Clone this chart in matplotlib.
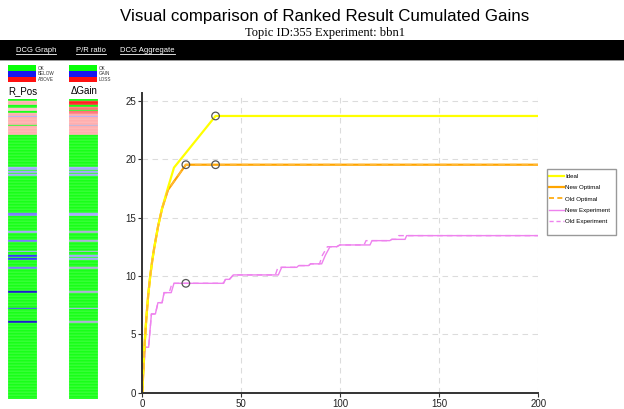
import matplotlib
matplotlib.use('Agg')
import matplotlib.pyplot as plt
from matplotlib.patches import Rectangle
from matplotlib.lines import Line2D
from matplotlib.colors import to_rgb

# ---------------- data ----------------
title = "Visual comparison of Ranked Result Cumulated Gains"
subtitle = "Topic ID:355 Experiment: bbn1"
links = ["DCG Graph", "P/R ratio", "DCG Aggregate"]

ideal_x = [0, 1, 2, 3, 4, 5, 6, 8, 10, 13, 16, 37, 200]
ideal_y = [0, 3.7, 6.3, 8.4, 10.0, 11.3, 12.4, 14.3, 15.8, 17.6, 19.3, 23.73, 23.73]

new_opt_x = [0, 1, 2, 3, 4, 5, 6, 8, 10, 13, 22, 200]
new_opt_y = [0, 3.7, 6.3, 8.4, 10.0, 11.3, 12.4, 14.3, 15.8, 17.4, 19.55, 19.55]
old_opt_x = new_opt_x
old_opt_y = new_opt_y

new_exp_x = [0, 1.5, 3.2, 4.6, 6.6, 7.9, 10, 11, 14.6, 16, 41, 42, 44, 46, 68.7, 70.4,
             78, 79, 84, 85, 90.6, 92.5, 94.8, 98.2, 99.8, 115, 116, 125, 126, 132.7, 133.5, 200]
new_exp_y = [0.2, 3.9, 3.9, 6.75, 6.75, 7.72, 7.72, 8.58, 8.58, 9.38, 9.38, 9.72, 9.72, 10.1, 10.1, 10.75,
             10.75, 10.9, 10.9, 11.05, 11.05, 11.8, 12.52, 12.52, 12.67, 12.67, 13.04, 13.04, 13.15, 13.15, 13.47, 13.47]

old_exp_x = [0, 1.5, 3.2, 4.6, 6.6, 7.9, 10, 11, 13.6, 15, 41, 42, 44, 46, 67.2, 68.5,
             77, 78, 84, 85, 89.5, 91, 93.5, 98.2, 99.8, 112, 113, 125, 126, 128.5, 129.5, 200]
old_exp_y = new_exp_y

marker_x = [37, 22, 37, 22]
marker_y = [23.73, 19.55, 19.55, 9.38]

series_labels = ["Ideal", "New Optimal", "Old Optimal", "New Experiment", "Old Experiment"]

# strip categories: runs of (code, count); 200 ranks each
rpos_runs = [("G", 1), ("r", 3), ("G", 2), ("p", 2), ("G", 1), ("r", 2), ("b", 1), ("r", 5), ("G", 1),
             ("r", 6), ("G", 21), ("b", 2), ("G", 1), ("b", 1), ("G", 1), ("b", 1), ("G", 25), ("m", 2),
             ("G", 10), ("b", 1), ("G", 5), ("m", 1), ("G", 6), ("b", 1), ("G", 2), ("B", 1), ("G", 1),
             ("B", 1), ("G", 5), ("m", 1), ("G", 15), ("D", 1), ("G", 10), ("B", 1), ("G", 8), ("D", 1),
             ("G", 51)]
gain_runs = [("G", 1), ("R", 3), ("G", 1), ("s", 2), ("G", 1), ("s", 2), ("r", 1), ("b", 1), ("r", 5),
             ("c", 1), ("r", 6), ("G", 21), ("b", 2), ("G", 1), ("b", 1), ("G", 1), ("b", 1), ("G", 25),
             ("b", 2), ("G", 10), ("c", 1), ("G", 5), ("c", 1), ("G", 6), ("c", 1), ("G", 2), ("b", 1),
             ("G", 1), ("b", 1), ("G", 5), ("c", 1), ("G", 15), ("c", 1), ("G", 10), ("b", 1), ("G", 8),
             ("c", 1), ("G", 51)]

code_colors = {"G": "#08ff08", "r": "#ffa8a8", "p": "#ffc0c0", "R": "#ff1010", "s": "#ff6a6a",
               "b": "#a0a0ff", "m": "#7070ff", "B": "#2828ff", "D": "#0a0acc", "c": "#a8a8d8"}

# ---------------- figure ----------------
W, H = 624, 409
fig = plt.figure(figsize=(6.24, 4.09), dpi=100)
fig.patch.set_facecolor("white")
sans = "Liberation Sans"


def fy(y):
    return 1 - y / H


fig.text(325 / W, fy(17), title, ha="center", va="center", fontsize=12.2, family=sans)
fig.text(325 / W, fy(33), subtitle, ha="center", va="center", fontsize=9, family="Liberation Serif")

# black navigation bar
fig.add_artist(Rectangle((0, fy(60)), 1, 20 / H, transform=fig.transFigure, color="black", lw=0))
fig.add_artist(Rectangle((0, fy(61)), 1, 1 / H, transform=fig.transFigure, color="#999999", lw=0))
link_x = [16, 76, 120]
link_texts = []
for lx, lab in zip(link_x, links):
    link_texts.append(fig.text(lx / W, fy(50), lab, color="white", fontsize=5.5, family=sans,
                               va="center", ha="left"))

# legend swatches for strips
def swatch(x0, labels):
    cols = ["#08ff08", "#1818f0", "#ff1010"]
    for i, (c, lab) in enumerate(zip(cols, labels)):
        y0 = 65.5 + i * 5.6
        fig.add_artist(Rectangle((x0 / W, fy(y0 + 5.6)), 28 / W, 5.6 / H, transform=fig.transFigure,
                                 color=c, lw=0))
        fig.text((x0 + 30) / W, fy(y0 + 2.8), lab, fontsize=3.3, family=sans, va="center", ha="left",
                 color="#333333")


swatch(8, ["OK", "BELOW", "ABOVE"])
swatch(69, ["OK", "GAIN", "LOSS"])
fig.text(8 / W, fy(91.5), "R_Pos", fontsize=7, family=sans, va="center", ha="left")
fig.text(71 / W, fy(91.5), "\u0394Gain", fontsize=7, family=sans, va="center", ha="left")


def expand(runs):
    out = []
    for code, n in runs:
        out.extend([code] * n)
    return out


def lighter(c, f=0.3):
    r, g, b = to_rgb(c)
    return (r + (1 - r) * f, g + (1 - g) * f, b + (1 - b) * f)


for x0, runs in [(8, rpos_runs), (69, gain_runs)]:
    codes = expand(runs)
    sax = fig.add_axes([x0 / W, 1 - 399 / H, 28.5 / W, 300 / H])
    cols = [code_colors[c] for c in codes]
    sax.barh(range(len(codes)), 1, height=1, left=0, color=cols,
             edgecolor=[lighter(c, 0.35) for c in cols], linewidth=0.3)
    sax.set_xlim(0, 1)
    sax.set_ylim(len(codes) - 0.5, -0.5)
    sax.axis("off")

# ---------------- main chart ----------------
ax = fig.add_axes([142.3 / W, 1 - 392.7 / H, (538.3 - 142.3) / W, (392.7 - 93) / H])
ax.set_xlim(0, 200)
ax.set_ylim(0, 25.7)
ax.set_xticks([0, 50, 100, 150, 200])
ax.set_yticks([0, 5, 10, 15, 20, 25])
ax.grid(True, color="#dcdcdc", linestyle=(0, (5, 4)), lw=0.8)
ax.set_axisbelow(True)
for s in ["top", "right"]:
    ax.spines[s].set_visible(False)
for s in ["left", "bottom"]:
    ax.spines[s].set_color("#333333")
    ax.spines[s].set_linewidth(1.4)
ax.tick_params(direction="out", length=3, width=0.8, color="#333333", labelsize=7,
               labelcolor="#222222", pad=1.5)
for lab in ax.get_xticklabels() + ax.get_yticklabels():
    lab.set_family(sans)

l1, = ax.plot(new_exp_x, new_exp_y, color="#ee82ee", lw=1.0, label=series_labels[3])
l2, = ax.plot(old_exp_x, old_exp_y, color="#ee82ee", lw=1.0, ls=(0, (4, 3)), label=series_labels[4])
l3, = ax.plot(new_opt_x, new_opt_y, color="#ffa500", lw=1.6, label=series_labels[1])
l4, = ax.plot(ideal_x, ideal_y, color="#ffff00", lw=1.6, label=series_labels[0])
l5, = ax.plot(old_opt_x, old_opt_y, color="#ffb733", lw=1.2, ls=(0, (4, 3)), label=series_labels[2])
ax.scatter(marker_x, marker_y, s=30, facecolors="none", edgecolors="#555555", linewidths=0.9, zorder=5)

h_ideal = Line2D([], [], color="#ffff00", lw=1.6)
h_new = Line2D([], [], color="#ffa500", lw=1.6)
h_old = Line2D([], [], color="#ffa500", lw=1.2, ls=(0, (3, 2)))
h_nexp = Line2D([], [], color="#ee82ee", lw=1.0)
h_oexp = Line2D([], [], color="#ee82ee", lw=1.0, ls=(0, (3, 2)))
leg = ax.legend([h_ideal, h_new, h_old, h_nexp, h_oexp], series_labels,
                loc="upper left", bbox_to_anchor=(546.8 / W, fy(172)), bbox_transform=fig.transFigure,
                prop={"family": sans, "size": 4.4}, frameon=False,
                handlelength=2.45, handletextpad=0.3, labelspacing=0.97,
                borderpad=0.3, borderaxespad=0)
# legend box
fig.add_artist(Rectangle((546.7 / W, fy(235.3)), (616 - 546.7) / W, (235.3 - 169) / H,
                         transform=fig.transFigure, facecolor="none", edgecolor="#999999", lw=1.0))

# underline the links
fig.canvas.draw()
r = fig.canvas.get_renderer()
for t in link_texts:
    bb = t.get_window_extent(r)
    fig.add_artist(Line2D([bb.x0 / W, bb.x1 / W], [(bb.y0 - 0.5) / H] * 2, transform=fig.transFigure,
                          color="white", lw=0.6))

fig.savefig("out.png", dpi=100, facecolor="white")
